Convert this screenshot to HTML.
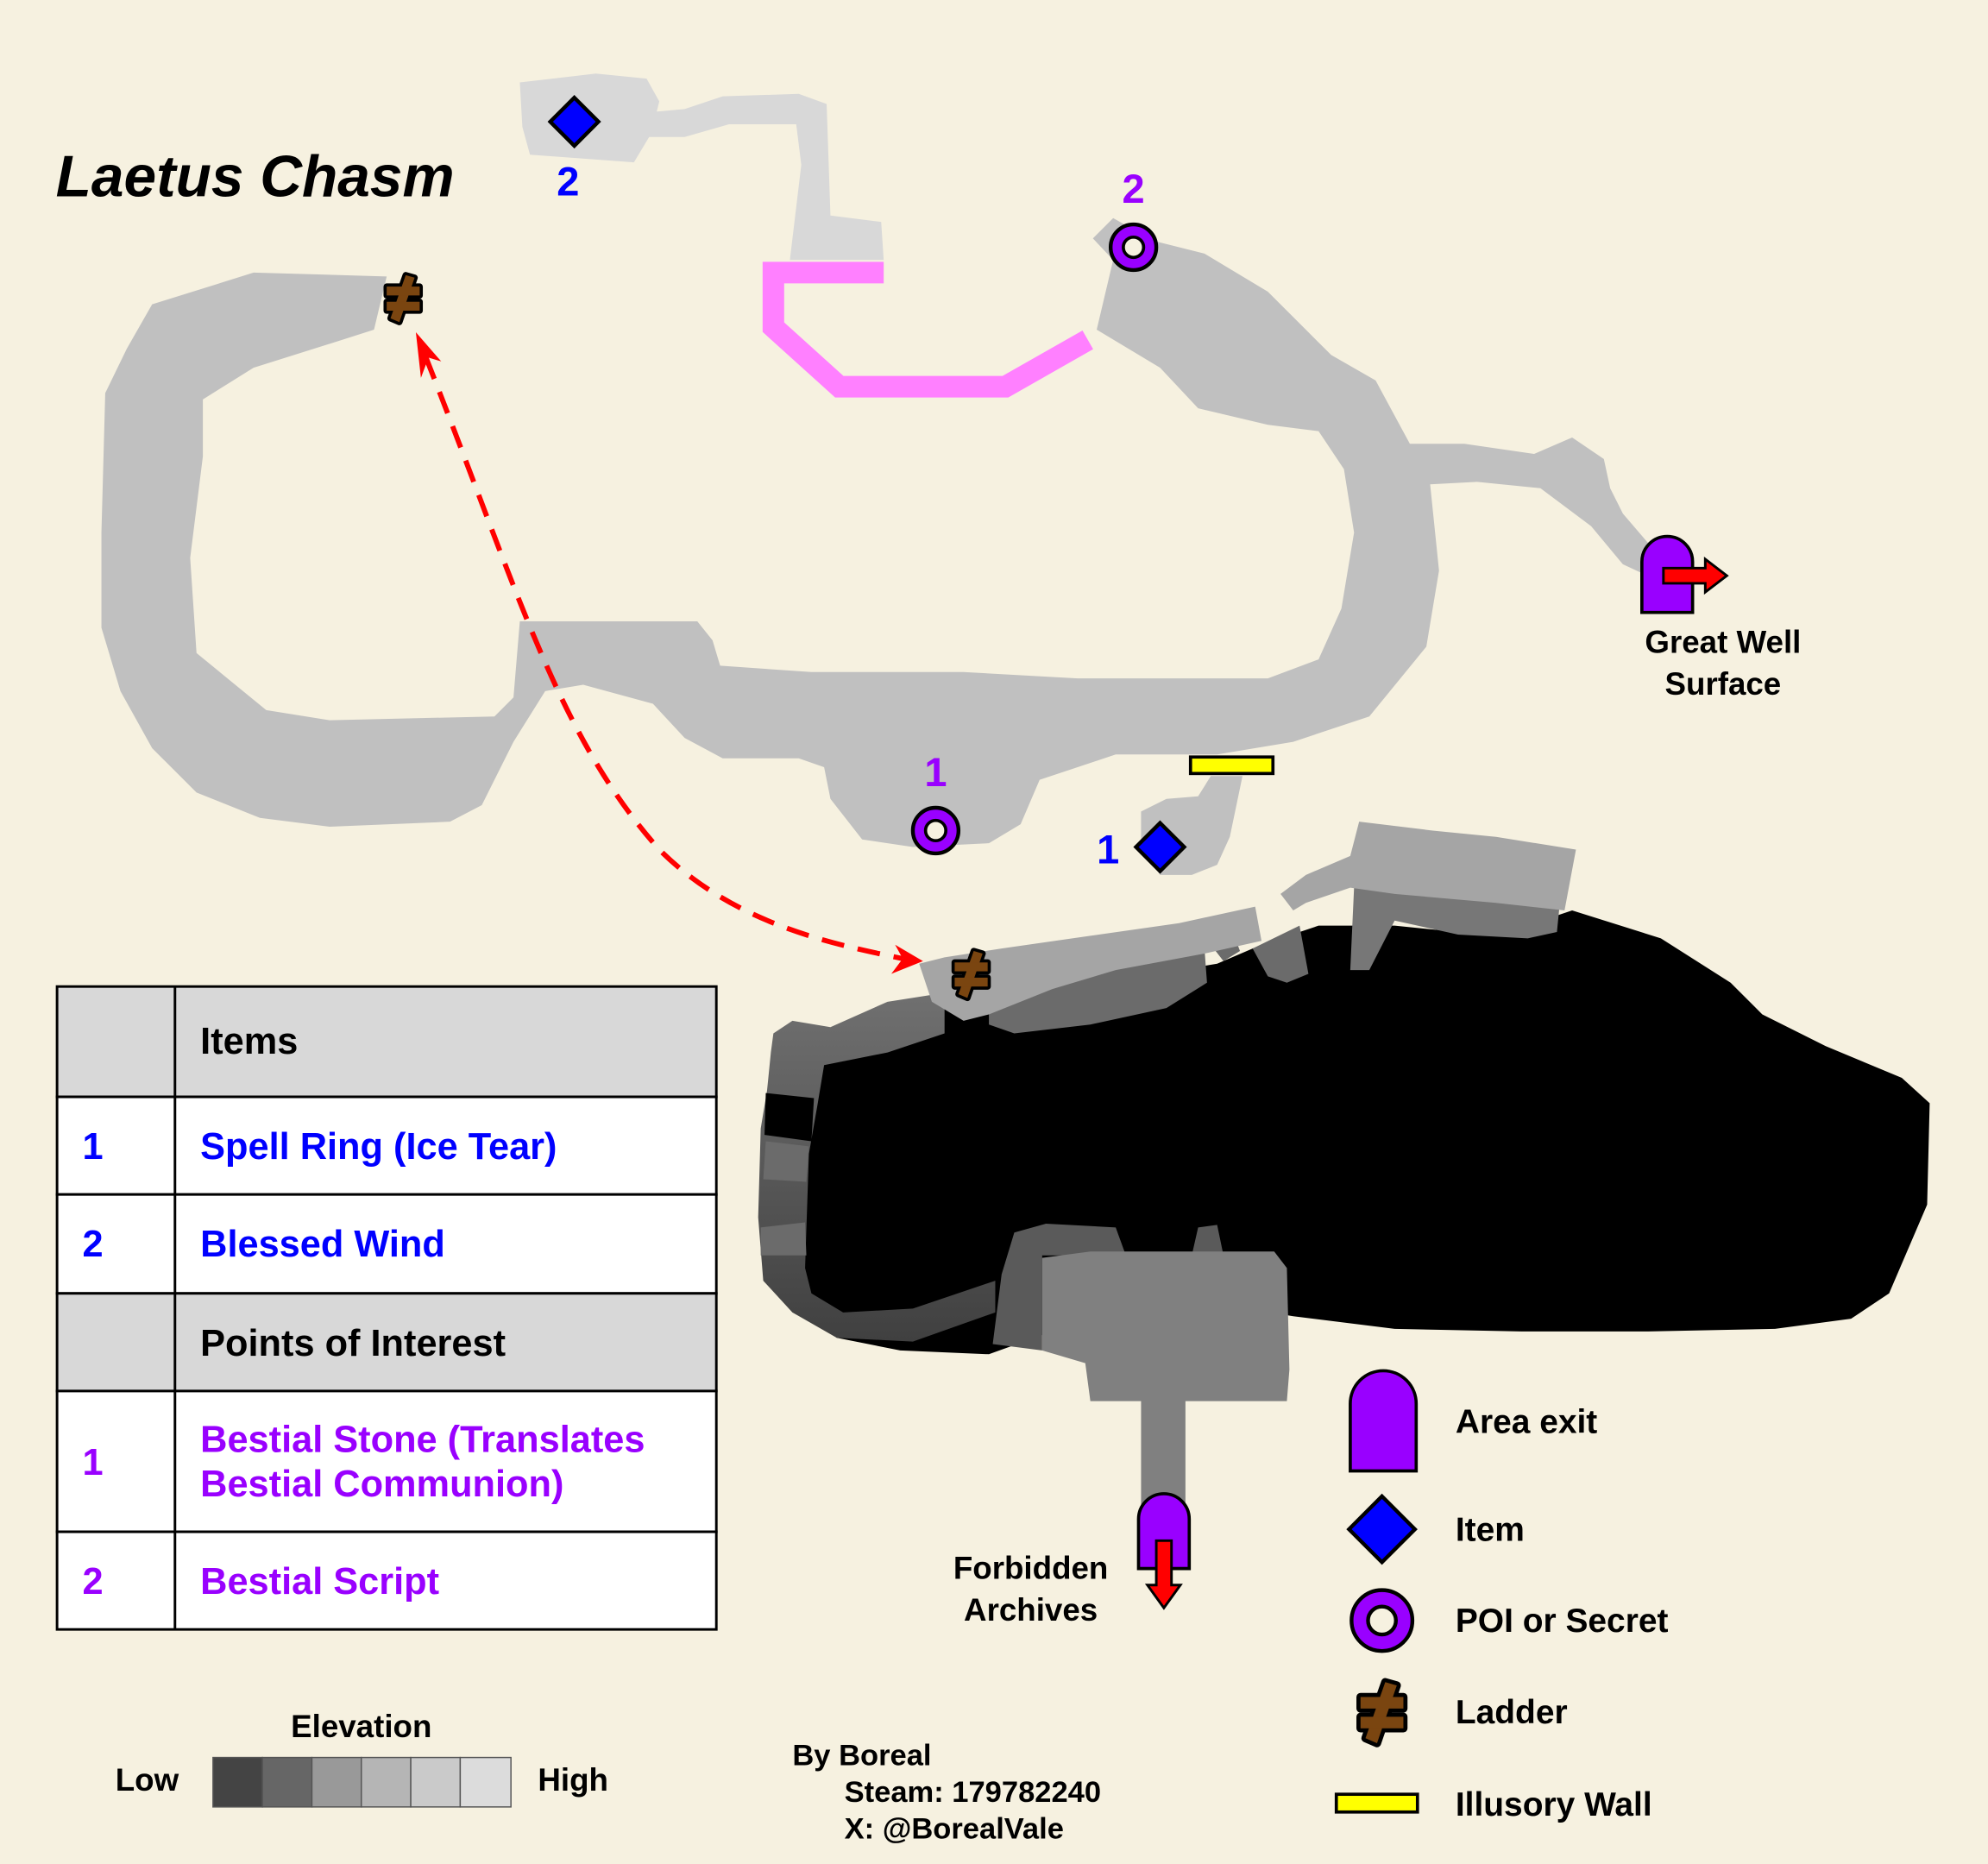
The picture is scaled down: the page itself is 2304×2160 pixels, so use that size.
<!DOCTYPE html>
<html><head><meta charset="utf-8"><style>
html,body{margin:0;padding:0;background:#f6f1e0;}
svg{display:block;}
text{font-family:"Liberation Sans",sans-serif;font-weight:bold;}
</style></head><body>
<svg width="2304" height="2160" viewBox="0 0 1568 1470" xmlns="http://www.w3.org/2000/svg">
<defs>
<g id="lad">
 <g stroke="#000" stroke-width="5" stroke-linejoin="round" fill="#000">
  <polygon points="2,-18 9,-16 -3,19 -10,16"/>
  <rect x="-13" y="-9" width="26" height="7"/>
  <rect x="-13" y="3" width="26" height="7"/>
 </g>
 <g fill="#7a4510">
  <polygon points="2,-18 9,-16 -3,19 -10,16"/>
  <rect x="-13" y="-9" width="26" height="7"/>
  <rect x="-13" y="3" width="26" height="7"/>
 </g>
</g>
<g id="dia"><polygon points="0,-19 19,0 0,19 -19,0" fill="#0000ff" stroke="#000" stroke-width="3"/></g>
<g id="poi"><circle r="18" fill="#9900ff" stroke="#000" stroke-width="3"/><circle r="8" fill="#f6f1e0" stroke="#000" stroke-width="2.5"/></g>
<linearGradient id="rim" x1="0" y1="0" x2="0" y2="1"><stop offset="0" stop-color="#707070"/><stop offset="1" stop-color="#404040"/></linearGradient>
</defs>
<rect width="1568" height="1470" fill="#f6f1e0"/>

<polygon fill="#d8d8d8" points="410,65 470,58 510,62 520,80 518,88 540,86 570,76 630,74 652,82 655,170 695,175 697,205 623,205 632,130 628,98 575,98 540,108 512,108 500,128 418,122 412,100" />
<polygon fill="#c0c0c0" points="120,240 200,215 305,218 295,260 270,268 200,290 160,315 160,360 150,440 155,515 210,560 260,568 390,565 405,550 410,490 550,490 562,505 568,525 640,530 760,530 850,535 1000,535 1040,520 1058,480 1068,420 1060,370 1040,340 1000,335 945,322 915,290 865,260 878,205 862,188 878,172 910,190 950,200 1000,230 1050,280 1085,300 1112,350 1155,350 1210,358 1240,345 1265,362 1270,385 1280,405 1310,440 1295,452 1280,445 1255,415 1215,385 1165,380 1128,382 1135,450 1125,510 1080,565 1020,585 960,595 880,595 820,615 805,650 780,665 720,668 680,662 655,630 650,605 630,598 570,598 540,582 515,555 460,540 430,545 405,585 380,635 355,648 260,652 205,645 155,625 120,590 95,545 80,495 80,420 83,310 100,275"/>
<polygon fill="#c0c0c0" points="900,640 920,630 945,628 955,612 980,612 970,660 960,682 940,690 915,690 900,668"/>
<polyline points="697,215 610,215 610,258 662,305 793,305 858,268" fill="none" stroke="#ff80ff" stroke-width="17"/>

<polygon fill="#000" points="640,830 700,800 745,790 780,800 840,780 960,760 995,745 1040,730 1100,730 1180,738 1240,718 1310,740 1365,775 1390,800 1440,825 1500,850 1522,870 1520,950 1490,1020 1460,1040 1400,1048 1300,1050 1200,1050 1100,1048 1020,1038 970,1030 900,1040 830,1050 780,1068 710,1065 660,1055 630,1030 610,980 605,900 610,840"/>
<polygon fill="url(#rim)" points="610,815 625,805 655,810 700,790 745,783 745,815 700,830 650,840 645,870 638,910 635,1000 640,1020 665,1035 720,1032 785,1010 785,1035 720,1058 660,1055 625,1035 602,1010 598,960 600,890 605,860 608,830"/>
<polygon fill="#000" points="604,862 642,866 640,900 603,895"/>
<polygon fill="#6b6b6b" points="604,900 638,904 636,932 602,930"/>
<polygon fill="#6b6b6b" points="600,968 635,964 636,990 600,990"/>
<polygon fill="#6b6b6b" points="780,785 830,775 880,760 950,748 952,775 920,795 860,808 800,815 780,808"/>
<polygon fill="#6b6b6b" points="988,748 1025,730 1032,768 1015,775 1000,770"/>
<polygon fill="#6b6b6b" points="955,745 975,742 978,750 965,758"/>
<polygon fill="#777" points="1068,700 1230,715 1228,735 1205,740 1150,737 1100,726 1080,765 1065,765"/>
<polygon fill="#a5a5a5" points="725,760 745,755 790,748 860,738 930,728 990,715 995,742 950,752 880,765 830,780 780,800 760,805 735,790"/>
<polygon fill="#a5a5a5" points="1010,705 1030,690 1065,675 1072,648 1130,655 1180,660 1243,670 1234,718 1180,712 1100,705 1065,700 1030,712 1020,718"/>
<polygon fill="#5a5a5a" points="783,1060 790,1005 800,972 825,965 880,968 888,990 940,990 945,968 960,966 965,990 822,990 822,1065"/>
<polygon fill="#808080" points="822,992 860,987 950,987 1005,987 1015,1000 1017,1080 1015,1105 935,1105 935,1190 900,1190 900,1105 860,1105 856,1075 822,1065"/>

<path d="M336,282 C410,470 440,580 520,670 C580,730 660,745 712,756" fill="none" stroke="#ff0000" stroke-width="4" stroke-dasharray="18,11"/>
<polygon points="328,262 348,285 338,282 332,298" fill="#ff0000"/>
<polygon points="728,758 706,745 712,756 703,768" fill="#ff0000"/>

<use href="#lad" x="318" y="235"/>
<use href="#lad" x="766" y="768"/>
<use href="#dia" x="453" y="96"/>
<use href="#dia" x="915" y="668"/>
<use href="#poi" x="894" y="195"/>
<use href="#poi" x="738" y="655"/>
<rect x="939" y="597" width="65" height="13" fill="#ffff00" stroke="#000" stroke-width="2.5"/>

<text x="448" y="154" fill="#0000ff" font-size="32" text-anchor="middle">2</text>
<text x="894" y="160" fill="#9900ff" font-size="32" text-anchor="middle">2</text>
<text x="738" y="620" fill="#9900ff" font-size="32" text-anchor="middle">1</text>
<text x="874" y="681" fill="#0000ff" font-size="32" text-anchor="middle">1</text>

<path d="M1295,483 L1295,443 A20,20 0 0 1 1335,443 L1335,483 Z" fill="#9900ff" stroke="#000" stroke-width="2.5"/>
<polygon points="1312,448 1345,448 1345,441 1362,454 1345,467 1345,460 1312,460" fill="#ff0000" stroke="#000" stroke-width="2"/>
<text x="1359" y="515" font-size="25" text-anchor="middle">Great Well</text>
<text x="1359" y="548" font-size="25" text-anchor="middle">Surface</text>

<path d="M898,1237 L898,1198 A20,20 0 0 1 938,1198 L938,1237 Z" fill="#9900ff" stroke="#000" stroke-width="2.5"/>
<polygon points="912,1215 924,1215 924,1250 931,1250 918,1268 905,1250 912,1250" fill="#ff0000" stroke="#000" stroke-width="2"/>
<text x="813" y="1245" font-size="25" text-anchor="middle">Forbidden</text>
<text x="813" y="1278" font-size="25" text-anchor="middle">Archives</text>

<text x="44" y="155" font-size="46" font-style="italic">Laetus Chasm</text>

<g stroke="#000" stroke-width="2">
<rect x="45" y="778" width="520" height="87" fill="#d8d8d8"/>
<rect x="45" y="865" width="520" height="77" fill="#fff"/>
<rect x="45" y="942" width="520" height="78" fill="#fff"/>
<rect x="45" y="1020" width="520" height="77" fill="#d8d8d8"/>
<rect x="45" y="1097" width="520" height="111" fill="#fff"/>
<rect x="45" y="1208" width="520" height="77" fill="#fff"/>
<line x1="138" y1="778" x2="138" y2="1285"/>
</g>
<g font-size="29.5">
<text x="158" y="831">Items</text>
<text x="65" y="914" fill="#0000ff">1</text><text x="158" y="914" fill="#0000ff">Spell Ring (Ice Tear)</text>
<text x="65" y="991" fill="#0000ff">2</text><text x="158" y="991" fill="#0000ff">Blessed Wind</text>
<text x="158" y="1069">Points of Interest</text>
<text x="65" y="1163" fill="#9900ff">1</text><text x="158" y="1145" fill="#9900ff">Bestial Stone (Translates</text><text x="158" y="1180" fill="#9900ff">Bestial Communion)</text>
<text x="65" y="1257" fill="#9900ff">2</text><text x="158" y="1257" fill="#9900ff">Bestial Script</text>
</g>

<text x="285" y="1370" font-size="25" text-anchor="middle">Elevation</text>
<text x="116" y="1412" font-size="25" text-anchor="middle">Low</text>
<text x="452" y="1412" font-size="25" text-anchor="middle">High</text>
<g stroke="#555" stroke-width="1">
<rect x="168" y="1386" width="39" height="39" fill="#444"/>
<rect x="207" y="1386" width="39" height="39" fill="#666"/>
<rect x="246" y="1386" width="39" height="39" fill="#999"/>
<rect x="285" y="1386" width="39" height="39" fill="#b5b5b5"/>
<rect x="324" y="1386" width="39" height="39" fill="#cacaca"/>
<rect x="363" y="1386" width="40" height="39" fill="#dcdcdc"/>
</g>

<text x="625" y="1392" font-size="23.5">By Boreal</text>
<text x="666" y="1421" font-size="23.5">Steam: 179782240</text>
<text x="666" y="1450" font-size="23.5">X: @BorealVale</text>

<path d="M1065,1160 L1065,1107 A26,26 0 0 1 1117,1107 L1117,1160 Z" fill="#9900ff" stroke="#000" stroke-width="2.5"/>
<polygon points="1090,1180 1116,1206 1090,1232 1064,1206" fill="#0000ff" stroke="#000" stroke-width="3"/>
<circle cx="1090" cy="1278" r="24" fill="#9900ff" stroke="#000" stroke-width="3"/><circle cx="1090" cy="1278" r="11" fill="#f6f1e0" stroke="#000" stroke-width="3"/>
<use href="#lad" transform="translate(1090,1350) scale(1.3)"/>
<rect x="1054" y="1415" width="64" height="14" fill="#ffff00" stroke="#000" stroke-width="2.5"/>
<g font-size="26.5">
<text x="1148" y="1130">Area exit</text>
<text x="1148" y="1215">Item</text>
<text x="1148" y="1287">POI or Secret</text>
<text x="1148" y="1359">Ladder</text>
<text x="1148" y="1432">Illusory Wall</text>
</g>
</svg>
</body></html>
